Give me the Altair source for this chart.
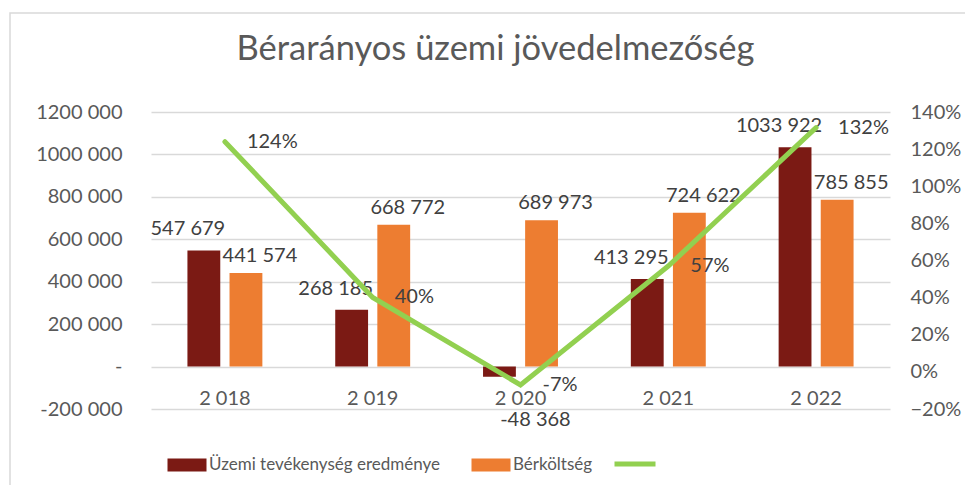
import altair as alt
import pandas as pd

years = ["2 018", "2 019", "2 020", "2 021", "2 022"]
series = ["Üzemi tevékenység eredménye", "Bérköltség"]
uzemi = [547679, 268185, -48368, 413295, 1033922]
berkoltseg = [441574, 668772, 689973, 724622, 785855]
arany = [1.24, 0.401, -0.070, 0.570, 1.316]
line_name = "Bérarányos"

FONT = "Lato"
TXT = "#595959"
LBL = "#404040"
DARK = "#7B1A14"
ORANGE = "#ED7D31"
GREEN = "#92D050"


def fmt(v):
    a = abs(v)
    s = f"{a // 1000} {a % 1000:03d}"
    return ("-" if v < 0 else "") + s


rows = []
for i, y in enumerate(years):
    rows.append({"year": y, "series": series[0], "value": uzemi[i], "label": fmt(uzemi[i])})
    rows.append({"year": y, "series": series[1], "value": berkoltseg[i], "label": fmt(berkoltseg[i])})
bars_df = pd.DataFrame(rows)

line_df = pd.DataFrame({
    "year": years,
    "ratio": arany,
    "leg": [line_name] * len(years),
    "label": [f"{round(v * 100):.0f}%" for v in arany],
})

x_enc = alt.X("year:N", sort=years, title=None,
              scale=alt.Scale(paddingInner=0.493, paddingOuter=0.2465),
              axis=alt.Axis(domain=False, ticks=False, labelAngle=0, offset=-42.43,
                            labelPadding=22, labelFont=FONT, labelFontSize=20,
                            labelColor=TXT, grid=False))
xoff_enc = alt.XOffset("series:N", sort=series,
                       scale=alt.Scale(domain=series, paddingInner=0.22, paddingOuter=0))

left_axis = alt.Axis(
    values=[-200000, 0, 200000, 400000, 600000, 800000, 1000000, 1200000],
    labelExpr="datum.value == 0 ? '-' : (datum.value < 0 ? '-' : '') + floor(abs(datum.value)/1000) + ' ' + format(abs(datum.value) % 1000, '03d')",
    domain=False, ticks=False, grid=True, gridColor="#D9D9D9", gridWidth=1.3,
    labelFont=FONT, labelFontSize=20, labelColor=TXT, labelPadding=29, title=None)
y_left = alt.Y("value:Q", scale=alt.Scale(domain=[-200000, 1200000], nice=False, zero=False),
               axis=left_axis)

bars = alt.Chart(bars_df).mark_bar().encode(
    x=x_enc, xOffset=xoff_enc, y=y_left,
    fill=alt.Fill("series:N", sort=series,
                  scale=alt.Scale(domain=series, range=[DARK, ORANGE]),
                  legend=alt.Legend(orient="none", legendX=23, legendY=340,
                                    direction="horizontal", title=None,
                                    labelFont=FONT, labelFontSize=17, labelColor=TXT,
                                    labelLimit=500,
                                    symbolType="M-1.5,-0.5H1.5V0.5H-1.5Z", symbolSize=676,
                                    symbolStrokeWidth=0, columnPadding=30, labelOffset=9)),
)

txt_dark = alt.Chart(bars_df).transform_filter(
    (alt.datum.series == series[0]) & (alt.datum.value >= 0)
).mark_text(font=FONT, fontSize=20, color=LBL, dx=-16, dy=-21, baseline="middle").encode(
    x=x_enc, xOffset=xoff_enc, y=y_left, text="label:N")

txt_neg = alt.Chart(bars_df).transform_filter(
    alt.datum.value < 0
).mark_text(font=FONT, fontSize=20, color=LBL, dx=36, dy=43, baseline="middle").encode(
    x=x_enc, xOffset=xoff_enc, y=y_left, text="label:N")

txt_orange = alt.Chart(bars_df).transform_filter(
    alt.datum.series == series[1]
).mark_text(font=FONT, fontSize=20, color=LBL, dx=14, dy=-17, baseline="middle").encode(
    x=x_enc, xOffset=xoff_enc, y=y_left, text="label:N")

y_right = alt.Y("ratio:Q", scale=alt.Scale(domain=[-0.2, 1.4], nice=False, zero=False),
                axis=alt.Axis(orient="right", values=[-0.2, 0, 0.2, 0.4, 0.6, 0.8, 1.0, 1.2, 1.4],
                              format=".0%", domain=False, ticks=False, grid=False,
                              labelFont=FONT, labelFontSize=20, labelColor=TXT,
                              labelPadding=20, title=None))

line = alt.Chart(line_df).mark_line(strokeWidth=5, strokeCap="round", strokeJoin="miter").encode(
    x=x_enc, y=y_right,
    stroke=alt.Stroke("leg:N", scale=alt.Scale(domain=[line_name], range=[GREEN]),
                      legend=alt.Legend(orient="none", legendX=461, legendY=329,
                                        direction="horizontal", title=None,
                                        labelExpr="''", symbolType="stroke",
                                        symbolSize=1681, symbolStrokeWidth=5)),
)
line_txt = alt.Chart(line_df).mark_text(font=FONT, fontSize=20, color=LBL, dx=22, align="left",
                                         baseline="middle").encode(
    x=x_enc, y=y_right, text="label:N")

frame = alt.Chart(pd.DataFrame({"f": [0]})).mark_rect(
    filled=False, stroke="#D9D9D9", strokeWidth=1.5).encode(
    x=alt.value(-141), x2=alt.value(900), y=alt.value(-99), y2=alt.value(420))

left = alt.layer(bars, txt_dark, txt_orange, txt_neg)
right = alt.layer(line, line_txt)

chart = alt.layer(frame, left, right).resolve_scale(y="independent").properties(
    width=739, height=297,
    title=alt.TitleParams("Bérarányos üzemi jövedelmezőség", font=FONT, fontSize=34.5,
                          fontWeight="normal", color=TXT, anchor="middle", dx=-25, offset=-55),
    autosize=alt.AutoSizeParams(type="none"),
    padding={"left": 143, "top": 104, "right": 75, "bottom": 76},
).configure_view(stroke=None)

chart.save("out.html", embed_options={"renderer": "svg", "actions": False})
